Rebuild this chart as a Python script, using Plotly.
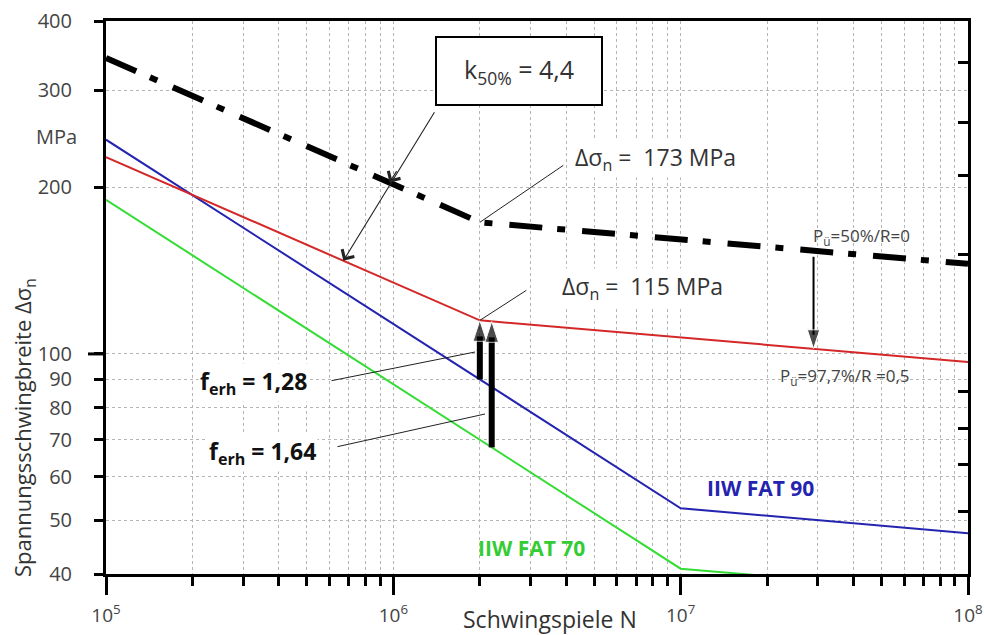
import numpy as np
import plotly.graph_objects as go

# ---------------- data ----------------
N_p50 = [1e5, 2e6, 1e8]          # Pü=50%, R=0 (dash-dot)
S_p50 = [343, 173, 145.5]
N_red = [1e5, 2e6, 1e8]          # Pü=97.7%, R=0.5
S_red = [227, 115, 96.7]
N_fat90 = [1e5, 1e7, 1e8]        # IIW FAT 90
S_fat90 = [244, 52.6, 47.4]
N_fat70 = [1e5, 1e7, 1e8]        # IIW FAT 70
S_fat70 = [190, 40.9, 36.9]

y_tick_vals = [40, 50, 60, 70, 80, 90, 100, 200, 300, 400]
y_tick_text = ["40", "50", "60", "70", "80", "90", "100", "200", "300", "400"]
x_major = [1e5, 1e6, 1e7, 1e8]
x_major_text = ["10<sup>5</sup>", "10<sup>6</sup>", "10<sup>7</sup>", "10<sup>8</sup>"]
x_minor = [m * 10 ** e for e in (5, 6, 7) for m in range(2, 10)]
right_ticks = [336, 262, 210, 151, 85.7, 73.3, 63, 51.8]

f_erh_text = ["1,28", "1,64"]
N_ferh = [2e6, 2.2e6]            # positions of the two f_erh arrows
N_pue_arrow = 2.9e7
N_k_tip = 6.7e5
N_k_mid = 9.7e5


def s_at(N, Ns, Ss):
    return 10 ** np.interp(np.log10(N), np.log10(Ns), np.log10(Ss))


FONT = "Open Sans"
fig = go.Figure()

fig.add_trace(go.Scatter(x=N_fat70, y=S_fat70, mode="lines",
                         line=dict(color="#33dd33", width=2), showlegend=False))
fig.add_trace(go.Scatter(x=N_fat90, y=S_fat90, mode="lines",
                         line=dict(color="#2424b0", width=2), showlegend=False))
fig.add_trace(go.Scatter(x=N_red, y=S_red, mode="lines",
                         line=dict(color="#d42828", width=2), showlegend=False))
fig.add_trace(go.Scatter(x=N_p50, y=S_p50, mode="lines",
                         line=dict(color="black", width=6, dash="33px,15px,8px,17px"),
                         showlegend=False))

# thick f_erh arrows
bases = [s_at(N_ferh[0], N_fat90, S_fat90), s_at(N_ferh[1], N_fat70, S_fat70)]
for n, b in zip(N_ferh, bases):
    tip = s_at(n, N_red, S_red)
    fig.add_trace(go.Scatter(x=[n, n], y=[b, tip], mode="lines+markers",
                             line=dict(color="black", width=6, backoff=16),
                             marker=dict(symbol="arrow", size=[0, 22], angleref="previous",
                                         color="black"),
                             showlegend=False))

# Pü arrow
fig.add_trace(go.Scatter(x=[N_pue_arrow, N_pue_arrow],
                         y=[s_at(N_pue_arrow, N_p50, S_p50) * 0.975, s_at(N_pue_arrow, N_red, S_red)],
                         mode="lines+markers",
                         line=dict(color="black", width=2, backoff=14),
                         marker=dict(symbol="arrow", size=[0, 20], angleref="previous", color="black"),
                         showlegend=False))

# secondary y axis for right-side ticks
fig.add_trace(go.Scatter(x=[1e5], y=[100], yaxis="y2", mode="markers",
                         marker=dict(opacity=0), showlegend=False, hoverinfo="skip"))

TXT = "#333333"
ann = []


def paper_x(px):
    return (px - 106) / 862


def paper_y(py):
    return (574 - py) / 553


def label(px, py, text, size, color=TXT, anchor="center", **kw):
    d = dict(x=paper_x(px), y=paper_y(py), xref="paper", yref="paper", text=text,
             showarrow=False, xanchor=anchor, yanchor="middle",
             font=dict(family=FONT, size=size, color=color))
    d.update(kw)
    ann.append(d)


def leader(x, y, ax, ay, ref="paper", **kw):
    d = dict(x=x, y=y, xref=ref, yref=ref.replace("x", "y"), ax=ax, ay=ay, text="",
             showarrow=True, arrowhead=0, arrowwidth=1, arrowcolor="#222")
    d.update(kw)
    ann.append(d)


# axis titles / unit
label(24, 428, "Spannungsschwingbreite Δσ<sub>n</sub>", 22, textangle=-90)
label(550, 619, "Schwingspiele N", 23)
label(56, 136, "MPa", 20, color="#444")

# k box
label(519, 71, "k<sub>50%</sub> = 4,4", 25, width=162, height=64,
      bordercolor="black", borderwidth=2, borderpad=1, bgcolor="white")
leader(np.log10(N_k_tip), np.log10(s_at(N_k_tip, N_red, S_red)), 92, -150, ref="x",
       arrowhead=4, arrowsize=2.5, arrowwidth=1.1)
leader(np.log10(N_k_mid), np.log10(s_at(N_k_mid, N_p50, S_p50)), 8, -13, ref="x",
       arrowhead=4, arrowsize=2.5, arrowwidth=1.1)

# Δσn labels
label(573, 158, "Δσ<sub>n</sub> =  173 MPa", 23, anchor="left", bgcolor="white")
leader(np.log10(N_p50[1]), np.log10(S_p50[1]), 85, -58, ref="x")
label(560, 287, "Δσ<sub>n</sub> =  115 MPa", 23, anchor="left", bgcolor="white")
leader(np.log10(N_red[1]), np.log10(S_red[1]), 48, -31, ref="x")

# Pü labels
label(811, 236, "P<sub>ü</sub>=50%/R=0", 17, color="#444", anchor="left")
label(778, 376, "P<sub>ü</sub>=97,7%/R =0,5", 17, color="#444", anchor="left")

# FAT labels
label(760, 488, "<b>IIW FAT 90</b>", 21, color="#2424b0")
label(531, 548, "<b>IIW FAT 70</b>", 21, color="#33cc33")

# f_erh labels
label(253, 382, "<b>f<sub>erh</sub> = " + f_erh_text[0] + "</b>", 23, color="#111", bgcolor="white")
leader(paper_x(475), paper_y(352), -145, 29)
label(262, 452, "<b>f<sub>erh</sub> = " + f_erh_text[1] + "</b>", 23, color="#111", bgcolor="white")
leader(paper_x(485), paper_y(414), -149, 33)

shapes = [
    # longer tick at 100
    dict(type="line", xref="paper", yref="paper", x0=-18 / 862, x1=0,
         y0=np.log10(100 / 40), y1=np.log10(100 / 40), line=dict(color="black", width=3)),
]

GRID = "#b5b5b5"
fig.update_layout(
    width=984, height=635,
    margin=dict(l=106, r=16, t=21, b=61, autoexpand=False),
    paper_bgcolor="white", plot_bgcolor="white",
    showlegend=False,
    annotations=ann,
    shapes=shapes,
    xaxis=dict(type="log", range=[5, 8], tickvals=x_major, ticktext=x_major_text,
               ticks="outside", ticklen=18, tickwidth=3, tickcolor="black",
               showline=True, linewidth=3, linecolor="black", mirror=True,
               showgrid=True, gridcolor=GRID, griddash="dot", gridwidth=1,
               ticklabelstandoff=4, automargin=False, ticklabeloverflow="allow",
               tickfont=dict(family=FONT, size=19, color="#444"),
               minor=dict(tickvals=x_minor, ticks="outside", ticklen=9, tickwidth=3,
                          tickcolor="black", showgrid=True, gridcolor=GRID,
                          griddash="dot", gridwidth=1),
               zeroline=False),
    yaxis=dict(type="log", range=[np.log10(40), np.log10(400)],
               tickvals=y_tick_vals, ticktext=y_tick_text,
               ticks="outside", ticklen=9, tickwidth=3, tickcolor="black",
               showline=True, linewidth=3, linecolor="black", mirror=True,
               showgrid=True, gridcolor=GRID, griddash="dot", gridwidth=1,
               ticklabelstandoff=18, automargin=False, ticklabeloverflow="allow",
               tickfont=dict(family=FONT, size=20, color="#444"),
               zeroline=False),
    yaxis2=dict(type="log", range=[np.log10(40), np.log10(400)], overlaying="y", side="right",
                tickvals=right_ticks, ticks="inside", ticklen=10, tickwidth=3, tickcolor="black",
                showticklabels=False, showgrid=False, showline=False, zeroline=False,
                automargin=False),
)

# remove the default page margin so the 984x635 figure fills the window exactly
fig.write_html("out.html", config={"displayModeBar": False},
               post_script="document.body.style.margin='0';document.body.style.overflow='hidden';")
